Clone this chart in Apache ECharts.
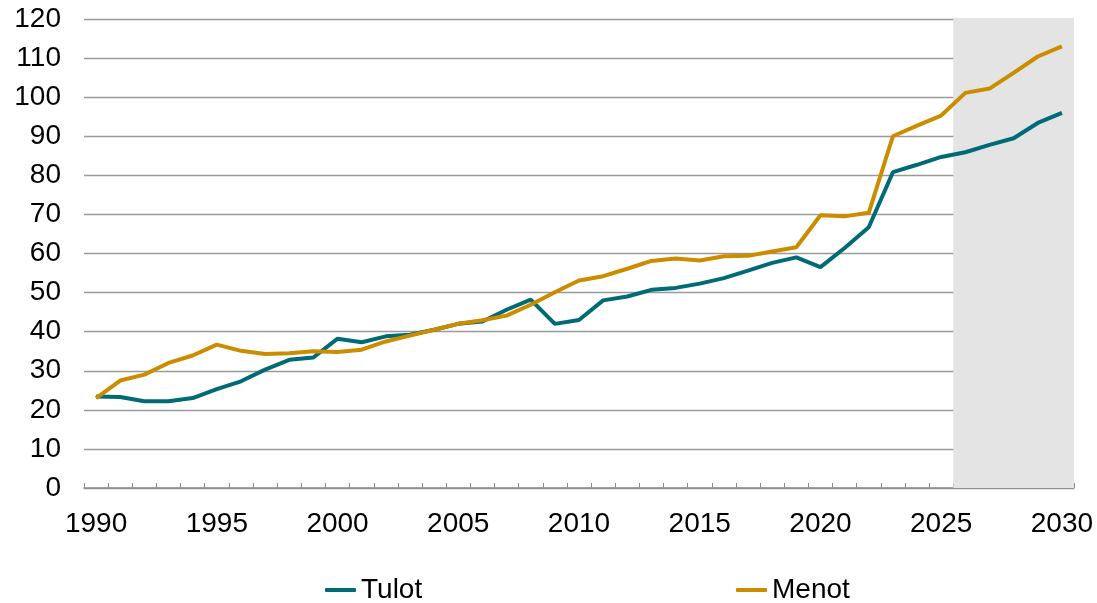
<!DOCTYPE html>
<html>
<head>
<meta charset="utf-8">
<script src="https://cdn.jsdelivr.net/npm/echarts@6/dist/echarts.min.js"></script>
<style>
html,body{margin:0;padding:0;background:#fff;}
#chart{width:1097px;height:603px;}
</style>
</head>
<body>
<div id="chart"></div>
<script>
const years = [];
for (let y = 1990; y <= 2030; y++) years.push(String(y));

const tulot = [23.4, 23.3, 22.2, 22.2, 23.0, 25.3, 27.3, 30.3, 32.8, 33.4,
  38.2, 37.3, 38.8, 39.2, 40.5, 42.0, 42.6, 45.6, 48.2, 42.0,
  43.0, 48.0, 49.0, 50.7, 51.2, 52.3, 53.7, 55.6, 57.6, 59.0,
  56.5, 61.4, 66.7, 80.8, 82.7, 84.7, 85.9, 87.8, 89.5, 93.4, 96.0];

const menot = [23.0, 27.5, 29.0, 32.0, 33.9, 36.7, 35.1, 34.3, 34.5, 35.0,
  34.8, 35.4, 37.5, 39.0, 40.5, 42.0, 42.9, 44.1, 46.9, 50.1,
  53.1, 54.2, 56.1, 58.1, 58.7, 58.2, 59.3, 59.4, 60.5, 61.6,
  69.8, 69.5, 70.4, 90.0, 92.7, 95.3, 101.1, 102.2, 106.2, 110.4, 113.0];

const forecastStart = 2025.5;
const forecastEnd = 2030.5;

const chart = echarts.init(document.getElementById('chart'));
const font = '"Liberation Sans", Arial, sans-serif';
chart.setOption({
  animation: false,
  backgroundColor: '#fff',
  textStyle: { fontFamily: font },
  grid: { left: 84, right: 23, top: 19, bottom: 115 },
  legend: [
    { data: ['Tulot'], left: 320, top: 571, icon: 'roundRect', itemWidth: 31, itemHeight: 4, itemGap: 6,
      textStyle: { fontSize: 28, color: '#000', fontFamily: font } },
    { data: ['Menot'], left: 731, top: 571, icon: 'roundRect', itemWidth: 31, itemHeight: 4, itemGap: 6,
      textStyle: { fontSize: 28, color: '#000', fontFamily: font } }
  ],
  xAxis: [
    {
      type: 'category', data: years, boundaryGap: true,
      axisLine: { lineStyle: { color: '#8c8c8c', width: 1.5 } },
      axisTick: { show: true, inside: true, length: 5, interval: 0, lineStyle: { color: '#8c8c8c' } },
      axisLabel: { interval: 4, color: '#000', fontSize: 28, margin: 22, fontFamily: font },
      splitLine: { show: false }
    },
    {
      type: 'value', min: 1989.5, max: 2030.5, show: false
    }
  ],
  yAxis: {
    type: 'value', min: 0, max: 120, interval: 10,
    axisLine: { show: false }, axisTick: { show: false },
    axisLabel: { color: '#000', fontSize: 28, margin: 23, fontFamily: font },
    splitLine: { lineStyle: { color: '#9a9a9a', width: 1.3 } }
  },
  series: [
    {
      name: 'shade', type: 'line', xAxisIndex: 1, data: [], silent: true,
      markArea: {
        silent: true,
        itemStyle: { color: '#e4e4e4' },
        data: [[{ xAxis: forecastStart }, { xAxis: forecastEnd }]]
      }
    },
    {
      name: 'Tulot', type: 'line', data: tulot, showSymbol: false, z: 3,
      lineStyle: { color: '#006b76', width: 4 }, itemStyle: { color: '#006b76' }
    },
    {
      name: 'Menot', type: 'line', data: menot, showSymbol: false, z: 4,
      lineStyle: { color: '#cc8c00', width: 4 }, itemStyle: { color: '#cc8c00' }
    }
  ]
});
</script>
</body>
</html>
